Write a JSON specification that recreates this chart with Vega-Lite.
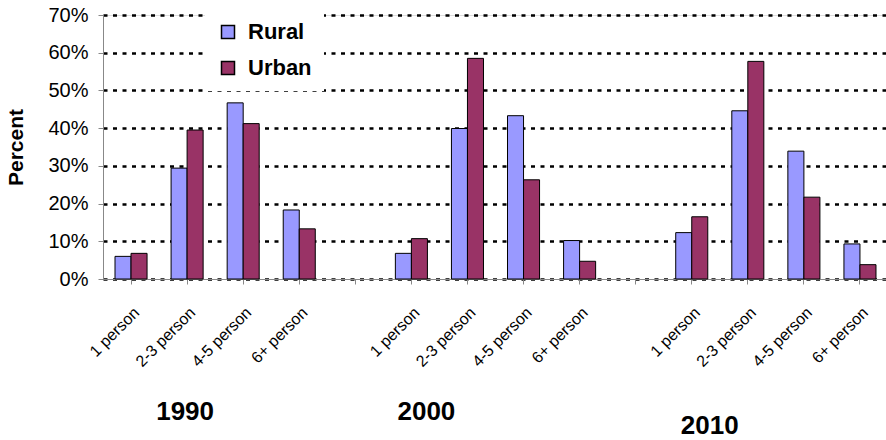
{
  "$schema": "https://vega.github.io/schema/vega-lite/v6.json",
  "width": 785,
  "height": 264,
  "datasets": {
    "bars": [
      {"slot": "1990|1 person", "area": "Rural", "share": 0.060},
      {"slot": "1990|1 person", "area": "Urban", "share": 0.068},
      {"slot": "1990|2-3 person", "area": "Rural", "share": 0.294},
      {"slot": "1990|2-3 person", "area": "Urban", "share": 0.395},
      {"slot": "1990|4-5 person", "area": "Rural", "share": 0.467},
      {"slot": "1990|4-5 person", "area": "Urban", "share": 0.412},
      {"slot": "1990|6+ person", "area": "Rural", "share": 0.183},
      {"slot": "1990|6+ person", "area": "Urban", "share": 0.133},
      {"slot": "2000|1 person", "area": "Rural", "share": 0.068},
      {"slot": "2000|1 person", "area": "Urban", "share": 0.107},
      {"slot": "2000|2-3 person", "area": "Rural", "share": 0.399},
      {"slot": "2000|2-3 person", "area": "Urban", "share": 0.585},
      {"slot": "2000|4-5 person", "area": "Rural", "share": 0.433},
      {"slot": "2000|4-5 person", "area": "Urban", "share": 0.263},
      {"slot": "2000|6+ person", "area": "Rural", "share": 0.102},
      {"slot": "2000|6+ person", "area": "Urban", "share": 0.047},
      {"slot": "2010|1 person", "area": "Rural", "share": 0.123},
      {"slot": "2010|1 person", "area": "Urban", "share": 0.165},
      {"slot": "2010|2-3 person", "area": "Rural", "share": 0.446},
      {"slot": "2010|2-3 person", "area": "Urban", "share": 0.577},
      {"slot": "2010|4-5 person", "area": "Rural", "share": 0.339},
      {"slot": "2010|4-5 person", "area": "Urban", "share": 0.217},
      {"slot": "2010|6+ person", "area": "Rural", "share": 0.093},
      {"slot": "2010|6+ person", "area": "Urban", "share": 0.038}
    ]
  },
  "encoding": {
    "x": {
      "field": "slot",
      "type": "nominal",
      "sort": null,
      "scale": {
        "domain": ["1990|1 person", "1990|2-3 person", "1990|4-5 person", "1990|6+ person", "gap1",
                   "2000|1 person", "2000|2-3 person", "2000|4-5 person", "2000|6+ person", "gap2",
                   "2010|1 person", "2010|2-3 person", "2010|4-5 person", "2010|6+ person"],
        "paddingInner": 0,
        "paddingOuter": 0
      },
      "axis": {
        "title": null,
        "labelExpr": "indexof(datum.value, '|') > 0 ? split(datum.value, '|')[1] : ''",
        "labelAngle": -45,
        "labelFontSize": 16,
        "labelPadding": 20
      }
    },
    "y": {
      "field": "share",
      "type": "quantitative",
      "scale": {"domain": [0, 0.7], "nice": false},
      "axis": {
        "title": "Percent",
        "format": ".0%",
        "titleFontSize": 21,
        "labelFontSize": 20,
        "labelPadding": 10,
        "titlePadding": 21,
        "gridColor": "black",
        "gridDash": [4, 5.5],
        "gridWidth": 2.5
      }
    }
  },
  "layer": [
    {
      "data": {"name": "bars"},
      "mark": {"type": "bar", "stroke": "black", "strokeWidth": 1},
      "encoding": {
        "xOffset": {
          "field": "area",
          "type": "nominal",
          "scale": {"paddingInner": 0, "paddingOuter": 0.75}
        },
        "color": {
          "field": "area",
          "type": "nominal",
          "scale": {"range": ["#9999FF", "#993366"]},
          "legend": {
            "orient": "none",
            "legendX": 102,
            "legendY": -6,
            "title": null,
            "fillColor": "white",
            "padding": 12,
            "symbolType": "square",
            "symbolSize": 169,
            "labelFontSize": 22,
            "labelFontWeight": "bold",
            "labelOffset": 9,
            "rowPadding": 14
          }
        }
      }
    },
    {
      "data": {"values": [{"slot": "1990|2-3 person", "share": -0.353, "year": "1990"}]},
      "mark": {"type": "text", "fontSize": 26, "fontWeight": "bold", "align": "center", "baseline": "middle", "dx": -2},
      "encoding": {"text": {"field": "year"}}
    },
    {
      "data": {"values": [{"slot": "2000|1 person", "share": -0.353, "year": "2000"}]},
      "mark": {"type": "text", "fontSize": 26, "fontWeight": "bold", "align": "center", "baseline": "middle", "dx": 15},
      "encoding": {"text": {"field": "year"}}
    },
    {
      "data": {"values": [{"slot": "2010|1 person", "share": -0.39, "year": "2010"}]},
      "mark": {"type": "text", "fontSize": 26, "fontWeight": "bold", "align": "center", "baseline": "middle", "dx": 18},
      "encoding": {"text": {"field": "year"}}
    }
  ]
}
